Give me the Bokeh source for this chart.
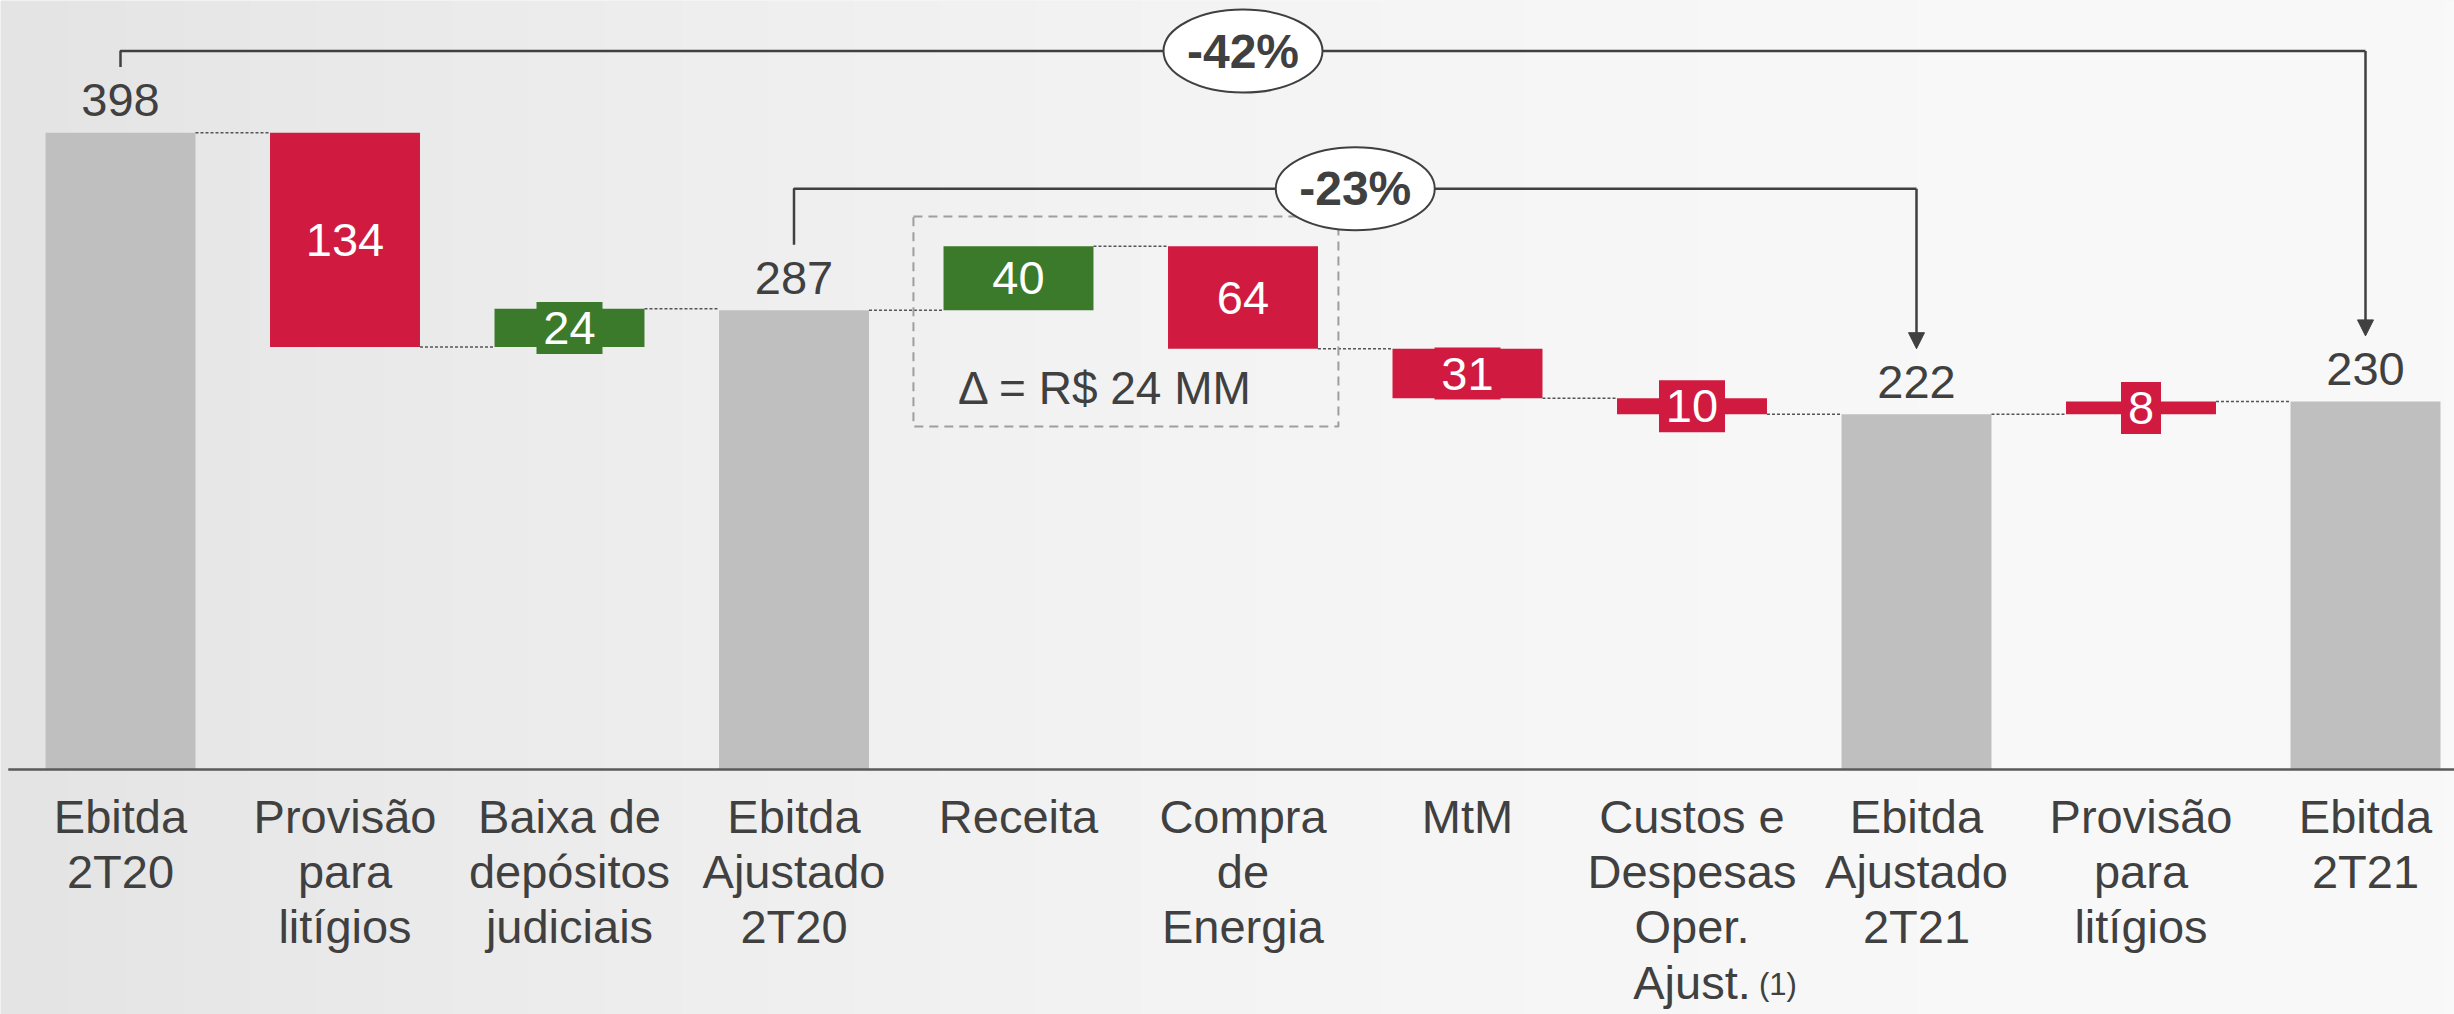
import numpy as np
from bokeh.plotting import figure
from bokeh.models import Range1d, ColumnDataSource, Arrow, NormalHead
from bokeh.core.properties import value
from bokeh.embed import file_html
from bokeh.resources import INLINE

# ---------------- data ----------------
categories = [
    "Ebitda\n2T20",
    "Provisão\npara\nlitígios",
    "Baixa de\ndepósitos\njudiciais",
    "Ebitda\nAjustado\n2T20",
    "Receita",
    "Compra\nde\nEnergia",
    "MtM",
    "Custos e\nDespesas\nOper.\nAjust.",
    "Ebitda\nAjustado\n2T21",
    "Provisão\npara\nlitígios",
    "Ebitda\n2T21",
]
values = [398, -134, 24, 287, 40, -64, -31, -10, 222, 8, 230]
kinds = ["total", "red", "green", "total", "green", "red", "red", "red", "total", "red", "total"]
footnote_bar = 7
footnote_text = "(1)"

pct_labels = ["-42%", "-23%"]
pct_from = [0, 3]
pct_to = [10, 8]

note_bars = [4, 5]
note_text = "Δ = R$ 24 MM"

# ---------------- style ----------------
COL = {"total": "#BFBFBF", "red": "#D01A40", "green": "#3A7A2A"}
TXT = "#404040"
FONT = "Liberation Sans"
BAR_W = 0.668
PX_PER_UNIT = 1.6

W, H = 2454, 1014
x0, x1 = -120 / 224.5, (W - 120) / 224.5
y1 = 769 / PX_PER_UNIT
y0 = (769 - H) / PX_PER_UNIT

p = figure(width=W, height=H, output_backend="svg", toolbar_location=None,
           x_range=Range1d(x0, x1), y_range=Range1d(y0, y1),
           x_axis_type=None, y_axis_type=None, min_border=0,
           outline_line_color=None, background_fill_color="#F0F0F0",
           border_fill_color="#F0F0F0")

# background gradient (light grey, darker at left)
n = 256
img = np.empty((1, n), dtype=np.uint32)
view = img.view(dtype=np.uint8).reshape((1, n, 4))
t = np.linspace(0, 1, n)
g = (228 + 21 * (1 - (1 - t) ** 2)).astype(np.uint8)
view[0, :, 0] = g
view[0, :, 1] = g
view[0, :, 2] = g
view[0, :, 3] = 255
p.image_rgba(image=[img], x=x0, y=y0, dw=x1 - x0, dh=y1 - y0)

# ---------------- waterfall geometry ----------------
xs = list(range(len(values)))
bottoms, tops, ends = [], [], []
running = 0
for v, k in zip(values, kinds):
    if k == "total":
        b, tp = 0, v
        running = v
    else:
        start = running
        running = start + v
        b, tp = min(start, running), max(start, running)
    bottoms.append(b)
    tops.append(tp)
    ends.append(running)

colors = [COL[k] for k in kinds]
src = ColumnDataSource(dict(x=xs, bottom=bottoms, top=tops, color=colors))
p.vbar(x="x", bottom="bottom", top="top", width=BAR_W, fill_color="color",
       line_color=None, source=src)

# connectors
cx0 = [i + BAR_W / 2 for i in xs[:-1]]
cx1 = [i + 1 - BAR_W / 2 for i in xs[:-1]]
cy = ends[:-1]
p.segment(x0=cx0, y0=cy, x1=cx1, y1=cy, line_color="#555555", line_width=1.5,
          line_dash="3 2")

# baseline
p.segment(x0=[-0.5], y0=[0], x1=[x1], y1=[0], line_color="#5A5A5A", line_width=2.5)

# tabs for small bars
tab_x, tab_y, tab_w, tab_c = [], [], [], []
for i, (v, k) in enumerate(zip(values, kinds)):
    if k != "total" and abs(v) * PX_PER_UNIT < 50:
        tab_x.append(i)
        tab_y.append((bottoms[i] + tops[i]) / 2)
        tab_w.append(26 * len(str(abs(v))) + 14)
        tab_c.append(COL[k])
p.rect(x=tab_x, y=tab_y, width=tab_w, height=[52] * len(tab_x),
       width_units="screen", height_units="screen", fill_color=tab_c, line_color=None)

# value labels
tot_i = [i for i, k in enumerate(kinds) if k == "total"]
p.text(x=tot_i, y=[tops[i] + 20.5 for i in tot_i], text=[str(values[i]) for i in tot_i],
       text_font=value(FONT), text_font_size="47px", text_color=TXT,
       text_align="center", text_baseline="middle")
d_i = [i for i, k in enumerate(kinds) if k != "total"]
p.text(x=d_i, y=[(bottoms[i] + tops[i]) / 2 for i in d_i],
       text=[str(abs(values[i])) for i in d_i],
       text_font=value(FONT), text_font_size="47px", text_color="white",
       text_align="center", text_baseline="middle")

# category labels
p.text(x=xs, y=[-12.5] * len(xs), text=categories, text_font=value(FONT),
       text_font_size="47px", text_color=TXT, text_align="center",
       text_baseline="top", text_line_height=1.045)
p.text(x=[footnote_bar], y=[(769 - 984) / PX_PER_UNIT], text=[footnote_text],
       text_font=value(FONT), text_font_size="31px", text_color=TXT,
       text_align="left", text_baseline="middle", x_offset=67)

# note box around Receita / Compra de Energia
bl = min(note_bars) - 0.468
br = max(note_bars) + 0.425
bt = max(tops[i] for i in note_bars) + 18.6
bb = min(bottoms[i] for i in note_bars) - 48.6
p.quad(left=[bl], right=[br], top=[bt], bottom=[bb], fill_color=None,
       line_color="#9E9E9E", line_width=2, line_dash="9 6")
p.text(x=[(bl + br) / 2 - 0.09], y=[bb + 24], text=[note_text], text_font=value(FONT),
       text_font_size="46px", text_color=TXT, text_align="center",
       text_baseline="middle")

# percentage brackets
levels = [449, 363]
OFF = 41
LC = "#404040"
for lab, a, b, lev in zip(pct_labels, pct_from, pct_to, levels):
    p.line(x=[a, a, b], y=[values[a] + OFF, lev, lev], line_color=LC, line_width=2.5)
    p.add_layout(Arrow(end=NormalHead(size=16, fill_color=LC, line_color=LC),
                       x_start=b, y_start=lev, x_end=b, y_end=values[b] + OFF,
                       line_color=LC, line_width=2.5))
    p.ellipse(x=[(a + b) / 2], y=[lev], width=159, height=83, width_units="screen",
              height_units="screen", fill_color="white", line_color=LC, line_width=2)
    p.text(x=[(a + b) / 2], y=[lev], text=[lab], text_font=value(FONT),
           text_font_size="48px", text_font_style="bold", text_color=TXT,
           text_align="center", text_baseline="middle")

open("out.html", "w").write(file_html(p, INLINE))
